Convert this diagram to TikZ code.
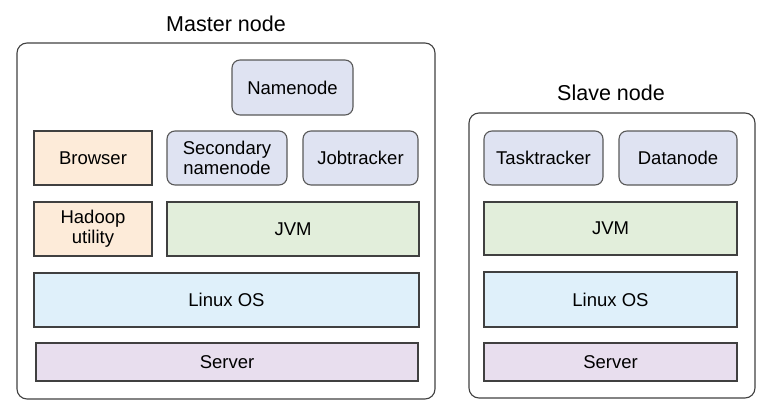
\documentclass[tikz,border=0pt]{standalone}
\usepackage{fontspec}
\setmainfont{Liberation Sans}
\usepackage{tikz}

\definecolor{toolfill}{HTML}{FDEBD9}
\definecolor{daemonfill}{HTML}{DFE3F2}
\definecolor{jvmfill}{HTML}{E2EEDB}
\definecolor{osfill}{HTML}{DFF0FA}
\definecolor{serverfill}{HTML}{E8DEEE}

\begin{document}
\begin{tikzpicture}[x=1pt, y=-1pt,
    layer/.style={draw=black!75, line width=1.1pt, inner sep=0pt, align=center,
        font=\fontsize{18.5}{20}\selectfont},
    daemon/.style={layer, draw=black!65, rounded corners=8pt, fill=daemonfill},
    tool/.style={layer, fill=toolfill},
    jvm/.style={layer, fill=jvmfill},
    os/.style={layer, fill=osfill},
    server/.style={layer, fill=serverfill},
    machine/.style={draw=black!75, line width=1.1pt, rounded corners=10pt},
    caption/.style={font=\fontsize{21.5}{24}\selectfont}]

                \useasboundingbox (0,0) rectangle (768,410);

                % Master node
                \node[caption] (mtitle) at (226,24) {Master node};
                \node[machine, minimum width=418, minimum height=356] (master) at (226,221) {};

                \node[daemon, minimum width=121, minimum height=55] (namenode) at (292.5,87.5) {Namenode};
                \node[tool, minimum width=118, minimum height=54] (browser) at (93,158) {Browser};
                \node[daemon, minimum width=120, minimum height=54] (secnn) at (227,158) {Secondary\\namenode};
                \node[daemon, minimum width=115, minimum height=54] (jobtracker) at (360.5,158) {Jobtracker};

                \node[tool, minimum width=118, minimum height=54] (hadoop) at (93,229) {Hadoop\\utility};
                \node[jvm, minimum width=252, minimum height=54] (mjvm) at (293,229) {JVM};
                \node[os, minimum width=385, minimum height=54] (mos) at (226.5,300) {Linux OS};
                \node[server, minimum width=382, minimum height=38] (mserver) at (227,362) {Server};

                % Slave node
                \node[caption] (stitle) at (611,93) {Slave node};
                \node[machine, minimum width=286, minimum height=285] (slave) at (612,255.5) {};

                \node[daemon, minimum width=119, minimum height=54] (tasktracker) at (543.5,158) {Tasktracker};
                \node[daemon, minimum width=118, minimum height=54] (datanode) at (678,158) {Datanode};

                \node[jvm, minimum width=253, minimum height=53] (sjvm) at (610.5,228.5) {JVM};
                \node[os, minimum width=253, minimum height=55] (sos) at (610.5,299.5) {Linux OS};
                \node[server, minimum width=253, minimum height=38] (sserver) at (610.5,362) {Server};

\end{tikzpicture}
\end{document}
